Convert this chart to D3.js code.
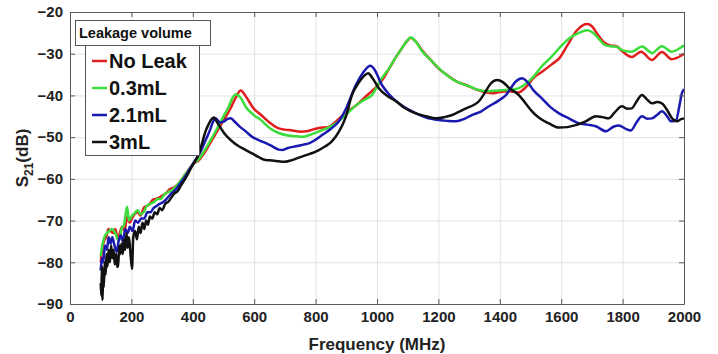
<!DOCTYPE html>
<html>
<head>
<meta charset="utf-8">
<script src="https://cdn.jsdelivr.net/npm/d3@7"></script>
<style>
body { margin: 0; background: #fff; }
text { font-family: "Liberation Sans", Arial, sans-serif; font-weight: bold; }
</style>
</head>
<body>
<div id="chart"></div>
<script>
// [frequency MHz, S21 dB]
const noLeak = [
  [100,-80],[105,-77],[110,-75],[118,-74],[125,-72],[132,-72.5],[140,-73],[148,-72],[155,-74.5],[162,-73],
  [170,-71.5],[178,-72.5],[186,-69],[194,-70.5],[202,-69.5],[210,-68.5],[220,-68],[230,-68.8],[240,-67],[250,-66.5],
  [260,-66],[270,-65],[280,-64.8],[290,-64.5],[300,-64],[312,-63.5],[325,-62.5],[340,-62],[355,-61],[370,-59.5],
  [385,-58],[400,-56.5],[420,-55.5],[440,-53.5],[460,-51],[480,-48.5],[500,-46],[520,-43.5],[540,-40.5],[556,-38.8],
  [575,-40.5],[600,-43.3],[620,-44.5],[650,-46.5],[680,-47.9],[700,-48.2],[725,-48.4],[750,-48.7],[770,-48.6],[790,-48.2],
  [810,-47.8],[840,-47.6],[870,-46],[900,-44],[930,-42.5],[960,-40.5],[990,-38.5],[1020,-36],[1040,-33.5],[1060,-31],
  [1080,-28.8],[1100,-26.8],[1110,-26.2],[1125,-27],[1150,-29.5],[1175,-31.5],[1200,-33.5],[1230,-35.2],[1260,-36.7],[1290,-37.5],
  [1320,-38.5],[1350,-39.2],[1380,-39.5],[1400,-39.2],[1430,-39],[1460,-39.3],[1485,-38],[1510,-35.8],[1540,-34.2],[1570,-32.5],
  [1595,-31],[1620,-28],[1650,-24.5],[1670,-23.2],[1685,-22.9],[1700,-23.4],[1720,-25.5],[1740,-27.3],[1760,-28],[1780,-28.2],
  [1800,-29.5],[1830,-30.8],[1860,-29.5],[1895,-31.5],[1928,-29.6],[1960,-31.3],[1990,-30.5],[2000,-30]
];
const leak03 = [
  [100,-78.5],[105,-76],[112,-74],[120,-73],[128,-72.5],[136,-72],[143,-72.4],[150,-73.5],[160,-74.8],[168,-72],
  [176,-71],[186,-66.7],[192,-70],[200,-69],[210,-68.3],[220,-67.5],[230,-68.5],[241,-67.9],[250,-66.5],[262,-66],
  [275,-65.5],[285,-64.8],[296,-64.8],[310,-63.5],[325,-63],[339,-62.3],[355,-61],[370,-59.5],[385,-58],[400,-56.5],
  [420,-55.2],[440,-53],[460,-50.5],[480,-47.8],[500,-45],[515,-43],[530,-40.5],[540,-39.7],[555,-40.5],[575,-43],
  [600,-44.8],[620,-45.8],[650,-47.8],[680,-49],[710,-49.6],[740,-49.8],[760,-49.9],[790,-49.2],[811,-48.6],[840,-47.8],
  [870,-46.5],[900,-44.5],[930,-42.5],[960,-41],[984,-39.9],[1010,-36.5],[1039,-33.5],[1060,-31],[1081,-28.7],[1100,-26.7],
  [1110,-26.1],[1125,-27],[1147,-29.4],[1175,-31.5],[1202,-33.5],[1230,-35.3],[1257,-36.6],[1280,-37.3],[1300,-37.8],[1332,-38.7],
  [1365,-39],[1395,-38.8],[1420,-38.7],[1450,-38.5],[1480,-37.5],[1510,-35.5],[1537,-33],[1565,-31],[1593,-28.7],[1625,-26.4],
  [1658,-25],[1684,-24.4],[1700,-24.8],[1720,-26.2],[1740,-27.8],[1760,-28.2],[1780,-28.3],[1800,-29.2],[1830,-29.5],[1863,-28.3],
  [1896,-29.8],[1928,-28.2],[1960,-29.5],[1990,-28.5],[2000,-28]
];
const leak21 = [
  [100,-82],[104,-79],[108,-80],[114,-76],[120,-77],[126,-74],[132,-75.5],[138,-74],[145,-76],[152,-77.5],
  [158,-75],[165,-73.5],[172,-75],[180,-72],[188,-73],[195,-71.5],[204,-72.5],[212,-70],[222,-70.5],[232,-69.5],
  [242,-69.5],[252,-68],[262,-68],[272,-67],[282,-66.5],[292,-66],[305,-65.5],[318,-64.5],[330,-63.5],[345,-62.5],
  [360,-61],[378,-59.1],[395,-57],[410,-55.3],[425,-53.5],[440,-51],[455,-48.5],[465,-46.5],[474,-45.5],[490,-46.5],
  [500,-46.3],[512,-45.7],[523,-45.5],[535,-46.2],[550,-47.3],[572,-48.6],[595,-50],[615,-50.7],[640,-51.5],[659,-52.2],
  [680,-53],[691,-53.1],[710,-52.6],[736,-52.2],[760,-51.8],[778,-51.5],[800,-50.6],[821,-49.5],[850,-48],[876,-46.2],
  [900,-43],[931,-37.5],[955,-34.5],[970,-33.2],[979,-32.9],[990,-33.6],[1016,-37.5],[1040,-39.8],[1071,-41.9],[1100,-43.3],
  [1127,-44.3],[1160,-45.3],[1202,-45.9],[1230,-46.1],[1257,-46.2],[1285,-45.6],[1309,-44.7],[1340,-43.8],[1365,-42.6],[1395,-41.3],
  [1420,-39.9],[1453,-36.6],[1472,-35.9],[1490,-36.8],[1510,-38.8],[1537,-40.7],[1565,-42.8],[1593,-44.3],[1625,-45.5],[1658,-46.7],
  [1685,-47],[1713,-47.4],[1746,-48.6],[1770,-47.5],[1788,-47.2],[1810,-48],[1827,-48.4],[1845,-46.5],[1863,-45],[1880,-45.6],
  [1896,-45.5],[1915,-44.5],[1928,-43.8],[1945,-45],[1957,-46.2],[1974,-46],[1985,-42.5],[1993,-39.5],[2000,-38.5]
];
const leak3 = [
  [100,-85],[102,-88],[104,-81],[106,-89],[108,-83],[110,-86],[113,-80],[116,-83],[119,-78],[122,-81],
  [126,-77],[130,-80],[134,-76],[138,-79],[142,-77],[146,-80.5],[150,-78],[154,-81],[157,-81.1],[160,-76],
  [164,-78],[168,-75.5],[172,-78],[176,-74.5],[180,-77],[184,-73],[188,-76.5],[192,-74],[196,-77],[202,-81.6],
  [206,-74],[212,-72.5],[218,-74.5],[224,-71.5],[230,-73],[236,-70.5],[242,-72],[248,-70],[254,-71],[260,-69],
  [268,-69.5],[276,-68],[284,-68.5],[292,-67],[300,-67.5],[310,-66],[320,-65.5],[330,-64.5],[340,-63.5],[350,-63],
  [362,-61.5],[375,-60],[390,-58],[405,-56],[420,-54],[430,-51.5],[442,-48.5],[453,-46.7],[462,-45.6],[469,-45.3],
  [480,-46.5],[495,-48.3],[507,-49.5],[525,-50.8],[550,-52.2],[570,-53],[593,-53.9],[615,-54.8],[637,-55.5],[660,-55.6],
  [681,-55.8],[700,-55.9],[723,-55.5],[745,-54.9],[769,-54.3],[790,-53.8],[811,-53.1],[832,-52.2],[853,-51],[875,-48.8],
  [899,-45],[918,-40],[940,-37],[958,-35.3],[971,-34.7],[985,-35.8],[1006,-38.3],[1035,-40.2],[1062,-41.4],[1090,-43],
  [1127,-44.3],[1160,-45],[1192,-45.5],[1220,-45.2],[1245,-44.7],[1270,-43.8],[1290,-43.1],[1315,-42.3],[1332,-41.4],[1350,-39.5],
  [1370,-37.2],[1391,-36.3],[1410,-36.8],[1430,-38.2],[1462,-39.9],[1485,-42],[1505,-43.8],[1530,-45.5],[1560,-46.7],[1593,-47.7],
  [1620,-47.6],[1648,-47.1],[1680,-46.2],[1713,-45],[1735,-45.2],[1755,-45.5],[1775,-44],[1798,-42.6],[1815,-43.2],[1830,-43.1],
  [1845,-41.5],[1863,-39.9],[1880,-41],[1896,-41.9],[1912,-41.6],[1928,-41.9],[1945,-43.5],[1961,-45.5],[1977,-46.2],[1990,-45.7],
  [2000,-45.5]
];

const seriesNames = ["No Leak", "0.3mL", "2.1mL", "3mL"];
const seriesData = [noLeak, leak03, leak21, leak3];
const colors = ["#e01e1e", "#3ddc3d", "#1a1ab0", "#111111"];
const xTicks = d3.range(0, 2001, 200);
const yTicks = d3.range(-90, -19, 10);

const width = 718;
const height = 354;
const margin = {top: 12, right: 34, bottom: 50, left: 70};

const svg = d3.select("#chart")
  .append("svg")
  .attr("width", width)
  .attr("height", height);

const x = d3.scaleLinear()
  .domain([0, 2000])
  .range([margin.left, width - margin.right]);

const y = d3.scaleLinear()
  .domain([-90, -20])
  .range([height - margin.bottom, margin.top]);

const plotW = width - margin.left - margin.right;
const plotH = height - margin.top - margin.bottom;

// grid
svg.append("g")
  .attr("transform", `translate(0,${height - margin.bottom})`)
  .call(d3.axisBottom(x).tickValues(xTicks).tickSize(-plotH).tickFormat(""))
  .call(g => g.select(".domain").remove())
  .call(g => g.selectAll("line").attr("stroke", "#e3e3e3"));

svg.append("g")
  .attr("transform", `translate(${margin.left},0)`)
  .call(d3.axisLeft(y).tickValues(yTicks).tickSize(-plotW).tickFormat(""))
  .call(g => g.select(".domain").remove())
  .call(g => g.selectAll("line").attr("stroke", "#e3e3e3"));

// curves
const line = d3.line()
  .x(d => x(d[0]))
  .y(d => y(d[1]))
  .curve(d3.curveMonotoneX);

svg.append("g")
  .selectAll("path")
  .data(seriesData)
  .join("path")
  .attr("d", line)
  .attr("fill", "none")
  .attr("stroke", (d, i) => colors[i])
  .attr("stroke-width", 2.5)
  .attr("stroke-linejoin", "round");

// axes, MATLAB-like box with inward ticks
function styleAxis(g) {
  g.select(".domain").attr("stroke", "#5a5a5a");
  g.selectAll(".tick line").attr("stroke", "#5a5a5a");
  g.selectAll("text").attr("fill", "#222").attr("font-size", "15px").attr("font-weight", "bold");
}

svg.append("g")
  .attr("transform", `translate(0,${height - margin.bottom})`)
  .call(d3.axisBottom(x).tickValues(xTicks).tickFormat(d3.format("d")).tickSizeInner(-5).tickSizeOuter(0).tickPadding(7))
  .call(styleAxis);

svg.append("g")
  .attr("transform", `translate(${margin.left},0)`)
  .call(d3.axisLeft(y).tickValues(yTicks).tickFormat(d3.format("d")).tickSizeInner(-5).tickSizeOuter(0).tickPadding(7))
  .call(styleAxis);

svg.append("g")
  .attr("transform", `translate(0,${margin.top})`)
  .call(d3.axisTop(x).tickValues(xTicks).tickSizeInner(-5).tickSizeOuter(0).tickFormat(""))
  .call(styleAxis);

svg.append("g")
  .attr("transform", `translate(${width - margin.right},0)`)
  .call(d3.axisRight(y).tickValues(yTicks).tickSizeInner(-5).tickSizeOuter(0).tickFormat(""))
  .call(styleAxis);

// axis titles
svg.append("text")
  .attr("x", x(1000))
  .attr("y", 350)
  .attr("text-anchor", "middle")
  .attr("font-size", "17px")
  .attr("fill", "#222")
  .text("Frequency (MHz)");

const yt = svg.append("text")
  .attr("transform", `translate(28,${y(-55)}) rotate(-90)`)
  .attr("text-anchor", "middle")
  .attr("font-size", "17px")
  .attr("fill", "#222");
yt.append("tspan").text("S");
yt.append("tspan").attr("font-size", "12px").attr("dy", 5).text("21");
yt.append("tspan").attr("dy", -5).text("(dB)");

// legend
const legend = svg.append("g");
legend.append("rect")
  .attr("x", 85.5).attr("y", 45.5).attr("width", 114).attr("height", 110)
  .attr("fill", "#fff").attr("stroke", "#555").attr("stroke-width", 1);
legend.append("rect")
  .attr("x", 75.5).attr("y", 20.5).attr("width", 135).attr("height", 25)
  .attr("fill", "#fff").attr("stroke", "#555").attr("stroke-width", 1);
legend.append("text")
  .attr("x", 79).attr("y", 38)
  .attr("font-size", "14.5px").attr("fill", "#111")
  .text("Leakage volume");

const rows = legend.selectAll(".row")
  .data(seriesNames)
  .join("g")
  .attr("transform", (d, i) => `translate(0,${61 + i * 27})`);
rows.append("line")
  .attr("x1", 92).attr("x2", 107)
  .attr("stroke", (d, i) => colors[i]).attr("stroke-width", 2.5);
rows.append("text")
  .attr("x", 109).attr("y", 7)
  .attr("font-size", "20px").attr("fill", "#111")
  .text(d => d);
</script>
</body>
</html>
